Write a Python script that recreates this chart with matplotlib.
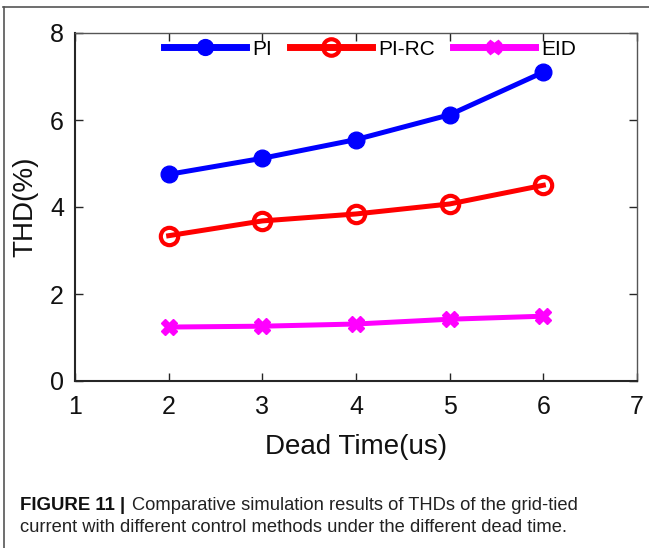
import matplotlib.pyplot as plt
from matplotlib.lines import Line2D

plt.rcParams['font.family'] = ['Liberation Sans', 'DejaVu Sans']

# Data
dead_time = [2, 3, 4, 5, 6]
thd_pi = [4.75, 5.12, 5.55, 6.12, 7.10]
thd_pirc = [3.34, 3.68, 3.84, 4.07, 4.50]
thd_eid = [1.24, 1.26, 1.31, 1.42, 1.49]

fig = plt.figure(figsize=(6.49, 5.48), dpi=100)
ax = fig.add_axes([75 / 649, 1 - 381 / 548, (637 - 75) / 649, (381 - 33) / 548])

ax.plot(dead_time, thd_pi, color='#0000ff', lw=3.6, marker='o', ms=12, label='PI')
ax.plot(dead_time, thd_pirc, color='#ff0000', lw=3.6, marker='o', ms=12.5,
        mfc='none', mec='#ff0000', mew=3, label='PI-RC')
ax.plot(dead_time, thd_eid, color='#ff00ff', lw=3.6, marker='X', ms=11, label='EID')

ax.set_xlim(1, 7)
ax.set_ylim(0, 8)
ax.set_xticks([1, 2, 3, 4, 5, 6, 7])
ax.set_yticks([0, 2, 4, 6, 8])
ax.tick_params(direction='in', length=6, width=1, labelsize=18, colors='#262626',
               labelcolor='#111111', top=True, right=True)
ax.tick_params(axis='x', pad=10)
ax.tick_params(axis='y', pad=8)
for side in ['left', 'bottom']:
    ax.spines[side].set_linewidth(1.5)
    ax.spines[side].set_color('#262626')
for side in ['top', 'right']:
    ax.spines[side].set_linewidth(1.0)
    ax.spines[side].set_color('#555555')

ax.set_xlabel('Dead Time(us)', fontsize=20, labelpad=11, color='#111111')
ax.set_ylabel('THD(%)', fontsize=20, labelpad=8, color='#111111')

leg = ax.legend(loc='upper center', bbox_to_anchor=(0.525, 1.035), ncol=3, frameon=False,
                fontsize=15, handlelength=3.9, handletextpad=0.3, columnspacing=0.9,
                markerscale=0.95)
for h in leg.legend_handles:
    h.set_linewidth(5)

# figure frame lines
fig.add_artist(Line2D([3 / 649, 1], [1 - 7 / 548, 1 - 7 / 548], color='#555555', lw=1.2))
fig.add_artist(Line2D([4 / 649, 4 / 649], [0, 1 - 7 / 548], color='#555555', lw=1.2))

# caption
cap_size = 13.2
t1 = fig.text(20 / 649, 1 - 505 / 548, 'FIGURE 11 |', fontsize=13.4,
              fontweight='bold', va='center', color='#111111')
fig.canvas.draw()
bb = t1.get_window_extent(fig.canvas.get_renderer())
fig.text(bb.x1 / 649 + 7 / 649, 1 - 505 / 548,
         'Comparative simulation results of THDs of the grid-tied',
         fontsize=cap_size, va='center', color='#222222')
fig.text(20 / 649, 1 - 528 / 548,
         'current with different control methods under the different dead time.',
         fontsize=cap_size, va='center', color='#222222')

plt.savefig('out.png', dpi=100)
